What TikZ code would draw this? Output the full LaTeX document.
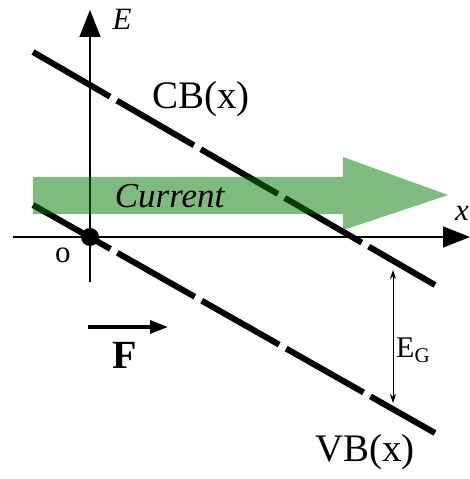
\documentclass[tikz,border=0pt]{standalone}
\usepackage{fontspec}
\setmainfont{Liberation Serif}
\usetikzlibrary{arrows.meta}
\definecolor{currentgreen}{RGB}{0,120,0}

\begin{document}
\begin{tikzpicture}[x=10pt, y=10pt,
        axis/.style={line width=1.5pt, -{Triangle[length=27pt, width=21pt]}},
        band/.style={line width=6pt, dash pattern=on 89pt off 8pt},
        lbl/.style={inner sep=0pt}]
    \useasboundingbox (-9,-24.2) rectangle (38,23.7);
    % Below are the ends of the axes and of the bands.
        \coordinate (ybot) at (0,-4.5);
        \coordinate (ytop) at (0,22.7);
        \coordinate (xleft) at (-7.7,0);
        \coordinate (xright) at (38,0);
        \coordinate (cbstart) at (-5.7,18.5);
        \coordinate (cbend) at (34.5,-4.8);
        \coordinate (vbstart) at (-5.7,3.2);
        \coordinate (vbend) at (34.5,-19.6);
    % This draws the axes.
        \draw[axis] (ybot) -- (ytop);
        \draw[axis] (xleft) -- (xright);
    % This draws the bands.
        \draw[band] (cbstart) -- (cbend);
        \draw[band] (vbstart) -- (vbend);
        \fill (0,0) circle (0.9);
    % This draws the current arrow.
        \fill[currentgreen, fill opacity=0.5] (-5.7,6.0) -- (25.3,6.0) -- (25.3,8.0)
            -- (35.8,4.2) -- (25.3,0.7) -- (25.3,2.3) -- (-5.7,2.3) -- cycle;
    % Below nodes are the labels.
        \node[lbl] (elabel) at (3.2,21.8) {\fontsize{31}{33}\selectfont\textit{E}};
        \node[lbl] (xlabel) at (37.2,2.4) {\fontsize{31}{33}\selectfont\textit{x}};
        \node[lbl] (origin) at (-2.7,-1.8) {\fontsize{31}{33}\selectfont o};
        \node[lbl] (cblabel) at (11.1,13.8) {\fontsize{39}{42}\selectfont CB(x)};
        \node[lbl] (vblabel) at (27.5,-21.5) {\fontsize{39}{42}\selectfont VB(x)};
        \node[lbl] (current) at (8,4.1) {\fontsize{35}{38}\selectfont\textit{Current}};
        \node[lbl, anchor=west] (eg) at (30.6,-11.3) {\fontsize{30}{32}\selectfont E\textsubscript{G}};
        \node[lbl] (force) at (3.5,-11.8) {\fontsize{40}{42}\selectfont\textbf{F}};
    % This draws the gap and the force arrows.
        \coordinate (egtop) at (30.3,-3.3);
        \coordinate (egbot) at (30.3,-16.6);
        \draw[line width=1pt, {Stealth[length=9pt, width=6pt]}-{Stealth[length=9pt, width=6pt]}] (egtop) -- (egbot);
        \coordinate (ftail) at (-0.2,-9.0);
        \coordinate (fhead) at (7.8,-9.0);
        \draw[line width=3.5pt, -{Triangle[length=18pt, width=13pt]}] (ftail) -- (fhead);
\end{tikzpicture}
\end{document}
